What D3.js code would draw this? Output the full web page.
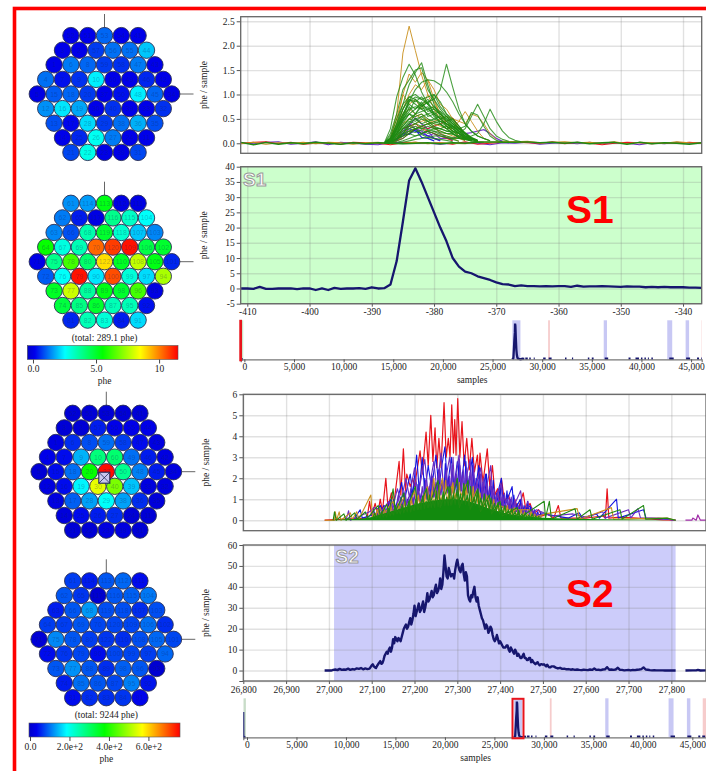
<!DOCTYPE html>
<html>
<head>
<meta charset="utf-8">
<script src="https://cdn.jsdelivr.net/npm/d3@7"></script>
<style>
  html, body { margin: 0; padding: 0; background: #fff; overflow: hidden; }
  text { font-family: "Liberation Serif", serif; fill: #222; }
</style>
</head>
<body>
<svg id="chart" width="706" height="771"></svg>
<script>
// PMT numbering, rows top to bottom
const topLabels = [
  [52, 51, 53, 54, 41],
  [3, 2, 57, 56, 55, 44],
  [1, 6, 8, 59, 58, 47, 43],
  [4, 7, 9, 10, 60, 49, 46, 42],
  [5, 15, 18, 20, 37, 50, 48, 45, 34],
  [12, 16, 19, 30, 40, 39, 33, 32],
  [13, 17, 28, 29, 38, 36, 35],
  [14, 25, 26, 27, 24, 11],
  [21, 22, 23, 39, 31]
];
const bottomLabels = [
  [61, 114, 113, 112, 111],
  [62, 65, 117, 116, 115, 104],
  [63, 66, 68, 119, 118, 107, 103],
  [64, 67, 69, 70, 120, 109, 106, 102],
  [71, 75, 78, 80, 122, 110, 108, 105, 101],
  [72, 76, 79, 90, 100, 99, 97, 94],
  [73, 77, 88, 89, 98, 96, 93],
  [74, 85, 86, 87, 95, 92],
  [81, 82, 83, 84, 91]
];
// phe per PMT
const s1Top = [
  [0.1, 0.1, 1.1, 0.1, 0.1],
  [0.1, 0.1, 0.7, 1.2, 1.2, 2.0],
  [0.1, 1.3, 1.1, 0.7, 0.6, 1.3, 0.1],
  [1.2, 0.3, 0.6, 2.4, 0.1, 0.1, 0.5, 0.1],
  [0.0, 1.0, 1.1, 0.7, 0.1, 0.3, 2.4, 1.1, 0.0],
  [1.5, 2.3, 1.7, 0.1, 0.6, 0.1, 0.1, 0.6],
  [0.9, 0.2, 2.2, 0.7, 1.2, 1.8, 0.9],
  [0.1, 0.5, 2.7, 1.3, 0.1, 0.1],
  [0.8, 2.8, 0.05, 0.05, 0.8]
];
const s1Bottom = [
  [1.5, 1.6, 5.3, 0.0, 0.0],
  [1.3, 0.4, 0.0, 3.9, 3.2, 2.6],
  [1.4, 0.9, 3.5, 5.0, 3.1, 2.0, 1.4],
  [5.6, 2.9, 3.4, 10.3, 10.8, 11.3, 4.7, 5.0],
  [0.05, 3.9, 6.3, 4.3, 8.9, 5.1, 7.8, 5.3, 0.5],
  [1.0, 2.6, 11.3, 2.3, 10.6, 3.0, 2.2, 7.5],
  [5.1, 7.9, 3.7, 5.3, 5.0, 6.3, 0.0],
  [4.8, 4.0, 5.0, 3.4, 3.4, 0.3],
  [0.5, 3.4, 3.0, 0.4, 2.2]
];
const s2Top = [
  [10, 10, 10, 10, 10],
  [10, 10, 50, 30, 30, 30],
  [20, 60, 80, 100, 70, 40, 20],
  [30, 40, 140, 285, 295, 100, 50, 20],
  [10, 40, 100, 380, 750, 270, 110, 50, 20],
  [20, 40, 180, 550, 470, 150, 20, 20],
  [20, 90, 130, 190, 130, 60, 15],
  [15, 40, 50, 60, 10, 10],
  [10, 10, 20, 20, 10]
];
const s2Bottom = [
  [70, 50, 85, 95, 40],
  [85, 65, 5, 85, 90, 105],
  [50, 85, 125, 80, 80, 60, 80],
  [70, 70, 85, 75, 75, 75, 100, 60],
  [10, 115, 85, 70, 65, 60, 80, 95, 75],
  [40, 65, 75, 40, 75, 75, 70, 95],
  [85, 120, 85, 60, 90, 85, 5],
  [50, 100, 85, 75, 110, 45],
  [40, 60, 60, 65, 35]
];

// S1 summed waveform, one value per sample from -411
const s1SumStart = -411;
const s1Sum = [0, 0, -0.1, 0.5, -0.1, -0.1, 0, 0, 0, -0.2, 0, 0, -0.5, 0, -0.5, 0.2, -0.1, 0, 0, 0.1, -0.1, 0.4, 0, 0.1,
  1.3, 9, 22, 35.5, 39.5, 35, 30, 25, 20, 15.5, 10, 7.2, 5.5, 5, 4, 3.4, 2.8, 2, 1.4, 1.3,
  0.8, 1, 0.8, 0.8, 0.7, 0.8, 0.7, 0.8, 0.8, 0.5, 0.9, 0.6, 0.7, 0.7, 0.8, 0.7, 0.6, 0.5, 0.7, 0.6, 0.6, 0.4, 0.5, 0.4, 0.5, 0.4, 0.4, 0.4, 0.3, 0.3, 0.2];

// S1 per-PMT traces, one value per sample from -388
const s1TraceStart = -388;
const s1Purple = [
  [0, 0, 0.1, 0.2, 0.35, 0.52, 0.4, 0.3, 0.35, 0.2, 0.12, 0.06],
  [0, 0, 0.05, 0.15, 0.2, 0.3, 0.25, 0.15, 0.2, 0.1, 0.1, 0.1, 0.15, 0.2, 0.22, 0.25, 0.28, 0.2, 0.1, 0.04],
  [0, 0.02, 0.08, 0.25, 0.4, 0.3, 0.2, 0.25, 0.1, 0.05]
];
const s1Blue = [
  [0, 0.02, 0.1, 0.15, 0.3, 0.25, 0.2, 0.15, 0.1, 0.06],
  [0, 0.01, 0.06, 0.2, 0.18, 0.28, 0.12, 0.1, 0.05]
];
const s1Red = [
  [0, 0, 0.05, 0.1, 0.2, 0.3, 0.35, 0.3, 0.35, 0.4, 0.45, 0.52, 0.35, 0.2, 0.1, 0.05],
  [0, 0.02, 0.1, 0.3, 0.35, 0.4, 0.3, 0.25, 0.2, 0.15, 0.1, 0.05]
];
const s1Orange = [
  [0, 0.1, 0.6, 1.85, 2.4, 1.9, 1.4, 1.0, 0.7, 0.5, 0.35, 0.25, 0.15, 0.1, 0.05],
  [0, 0.1, 0.5, 1.0, 1.42, 1.25, 1.45, 1.3, 0.9, 0.6, 0.4, 0.25, 0.15, 0.08],
  [0, 0.05, 0.3, 0.7, 1.0, 1.2, 1.1, 1.3, 1.1, 0.8, 0.7, 0.5, 0.3, 0.2, 0.1, 0.05],
  [0, 0.1, 0.4, 1.0, 0.8, 0.9, 0.7, 1.0, 0.85, 0.6, 0.45, 0.3, 0.2, 0.1],
  [0, 0, 0.1, 0.2, 0.3, 0.4, 0.45, 0.5, 0.4, 0.35, 0.3, 0.3, 0.45, 0.65, 0.45, 0.25, 0.1, 0.05],
  [0, 0, 0.05, 0.15, 0.25, 0.3, 0.35, 0.4, 0.45, 0.5, 0.55, 0.5, 0.45, 0.4, 0.6, 0.55, 0.4, 0.2, 0.08],
  [0, 0.05, 0.3, 0.6, 0.7, 0.6, 0.5, 0.4, 0.3, 0.25, 0.2, 0.15, 0.1, 0.05],
  [0, 0.02, 0.2, 0.4, 0.5, 0.55, 0.6, 0.45, 0.35, 0.2, 0.15, 0.1, 0.04]
];
const s1Green = [
  [0, 0.3, 0.95, 1.35, 1.62, 1.4, 1.05, 0.8, 0.6, 0.4, 0.3, 0.2, 0.12, 0.08, 0.05, 0.03, 0.02],
  [0, 0.1, 0.4, 0.8, 1.2, 1.45, 1.65, 1.2, 0.8, 0.55, 0.35, 0.25, 0.15, 0.1, 0.05, 0.03],
  [0, 0, 0.1, 0.2, 0.4, 0.6, 0.75, 0.85, 0.9, 1.1, 1.62, 1.15, 0.7, 0.4, 0.25, 0.15, 0.1, 0.05],
  [0, 0.05, 0.2, 0.5, 0.85, 1.1, 1.25, 1.3, 1.28, 1.2, 1.05, 0.85, 0.6, 0.4, 0.25, 0.15, 0.1, 0.05],
  [0, 0, 0.02, 0.05, 0.1, 0.15, 0.2, 0.25, 0.3, 0.3, 0.25, 0.25, 0.2, 0.3, 0.55, 0.8, 0.55, 0.3, 0.15, 0.08, 0.04],
  [0, 0, 0, 0.02, 0.05, 0.08, 0.1, 0.12, 0.15, 0.15, 0.12, 0.1, 0.1, 0.12, 0.15, 0.2, 0.4, 0.7, 0.45, 0.25, 0.12, 0.06, 0.03],
  [0, 0, 0.05, 0.1, 0.2, 0.3, 0.35, 0.4, 0.42, 0.45, 0.4, 0.35, 0.3, 0.35, 0.63, 0.58, 0.35, 0.15, 0.06, 0.03],
  [0, 0.2, 0.6, 1.1, 1.3, 1.5, 1.55, 1.1, 0.9, 0.7, 0.55, 0.4, 0.3, 0.2, 0.1, 0.05],
  [0, 0.15, 0.5, 0.8, 0.95, 1.0, 0.9, 0.95, 1.0, 0.85, 0.6, 0.45, 0.3, 0.2, 0.1, 0.05],
  [0, 0.1, 0.4, 0.7, 0.9, 0.85, 0.95, 0.8, 1.0, 0.75, 0.6, 0.5, 0.35, 0.2, 0.1, 0.05],
  [0, 0.1, 0.3, 0.55, 0.7, 0.75, 0.7, 0.6, 0.65, 0.5, 0.4, 0.3, 0.2, 0.1, 0.05],
  [0, 0.05, 0.25, 0.45, 0.6, 0.55, 0.6, 0.5, 0.45, 0.4, 0.3, 0.2, 0.12, 0.06],
  [0, 0.1, 0.35, 0.6, 0.8, 0.7, 0.85, 0.65, 0.7, 0.6, 0.5, 0.35, 0.25, 0.15, 0.08],
  [0, 0.05, 0.2, 0.35, 0.5, 0.45, 0.55, 0.45, 0.5, 0.55, 0.45, 0.5, 0.35, 0.2, 0.1],
  [0, 0.02, 0.15, 0.3, 0.4, 0.5, 0.4, 0.45, 0.35, 0.3, 0.35, 0.25, 0.2, 0.1, 0.05],
  [0, 0.02, 0.1, 0.25, 0.3, 0.35, 0.3, 0.35, 0.3, 0.25, 0.2, 0.2, 0.12, 0.08],
  [0, 0.05, 0.3, 0.5, 0.65, 0.9, 0.75, 0.85, 0.6, 0.5, 0.4, 0.3, 0.2, 0.12, 0.06],
  [0, 0.01, 0.08, 0.2, 0.25, 0.3, 0.2, 0.25, 0.2, 0.15, 0.12, 0.08, 0.04],
  [0, 0.03, 0.2, 0.45, 0.75, 0.6, 0.8, 0.55, 0.6, 0.65, 0.45, 0.35, 0.22, 0.12, 0.05],
  [0, 0.01, 0.1, 0.15, 0.2, 0.15, 0.18, 0.12, 0.1, 0.08, 0.06, 0.03],
  [0, 0.05, 0.3, 0.6, 0.85, 0.95, 0.9, 0.8, 0.7, 0.6, 0.45, 0.35, 0.25, 0.15, 0.08, 0.04],
  [0, 0.08, 0.35, 0.7, 0.95, 0.9, 0.8, 0.9, 0.75, 0.6, 0.5, 0.4, 0.25, 0.15, 0.08],
  [0, 0.02, 0.15, 0.4, 0.6, 0.7, 0.8, 0.7, 0.75, 0.65, 0.55, 0.45, 0.3, 0.2, 0.1, 0.05],
  [0, 0.03, 0.2, 0.35, 0.5, 0.6, 0.65, 0.7, 0.6, 0.5, 0.55, 0.4, 0.3, 0.22, 0.12, 0.06],
  [0, 0.04, 0.25, 0.5, 0.6, 0.5, 0.55, 0.6, 0.5, 0.45, 0.4, 0.32, 0.28, 0.18, 0.1, 0.05],
  [0, 0.02, 0.1, 0.3, 0.45, 0.4, 0.5, 0.45, 0.4, 0.38, 0.3, 0.35, 0.25, 0.2, 0.12, 0.06],
  [0, 0.01, 0.1, 0.2, 0.35, 0.4, 0.35, 0.4, 0.32, 0.3, 0.25, 0.22, 0.2, 0.15, 0.1, 0.05],
  [0, 0.02, 0.15, 0.3, 0.35, 0.3, 0.32, 0.28, 0.25, 0.22, 0.2, 0.18, 0.15, 0.12, 0.08, 0.04],
  [0, 0.02, 0.08, 0.15, 0.25, 0.22, 0.28, 0.2, 0.24, 0.18, 0.15, 0.12, 0.1, 0.08, 0.05],
  [0, 0.05, 0.3, 0.55, 0.9, 0.8, 0.7, 0.75, 0.55, 0.45, 0.35, 0.3, 0.2, 0.12, 0.06]
];
// S1 baseline noise, every 2 samples from -411
const s1NoisePurple = [0.01, -0.01, 0.02, 0.03, -0.02, 0, 0.03, -0.03, 0.02, 0, -0.02, -0.03, 0.01, 0.02, 0, 0, -0.02, 0, 0.01, 0, -0.03, 0.01, 0, 0.02, -0.02, 0, 0.01, -0.01, 0.02, -0.01, 0.01, 0, -0.03, 0.01, -0.01, 0.02, 0, 0.01];
const s1NoiseRed = [0, 0.02, 0.03, -0.01, 0.02, -0.02, 0, 0.01, -0.02, 0.02, 0.01, 0, -0.03, 0.01, 0.02, 0, 0.01, -0.02, 0.03, -0.02, 0, 0.02, 0.03, 0.01, 0, 0.03, -0.01, 0.02, 0, -0.03, 0, 0.02, 0.01, -0.01, 0.01, 0, 0.02, 0];
const s1NoiseOrange = [-0.01, 0.02, -0.02, 0.01, 0, 0.02, -0.01, 0.02, 0.01, -0.02, 0.01, 0.02, -0.01, 0, 0.02, -0.01, 0.01, 0, -0.01, 0.03, 0.02, 0.04, 0.03, 0.04, 0.01, 0.02, 0.03, 0.01, 0.02, 0, 0.03, -0.01, 0.02, 0.01, 0, 0.03, 0.01, 0];
const s1NoiseGreen = [0.02, -0.03, 0.02, -0.02, 0.01, -0.01, 0.02, 0, -0.02, 0.01, -0.01, 0.01, 0, -0.01, 0, 0.01, -0.01, 0.01, 0, 0.02, 0.03, 0.02, 0.02, 0.03, 0.01, 0.02, 0, 0.02, -0.01, 0.01, 0.02, -0.02, 0.02, -0.01, 0.01, 0, -0.02, 0.01];

// S2 summed waveform, one value every 5 samples from 26990
const s2SumStart = 26990;
const s2Sum = [0, 0, 0, 0,
  0.3, 0.5, 0.2, 0.8, 0.3, 0.5, 0.4, 0.9, 0.3, 0.7, 0.5, 1, 0.8, 1.2, 0.6, 1, 0.7, 0.9,
  2.5, 2, 1.2, 3, 4.5, 3.5, 7, 9, 10, 9, 15, 16, 14, 15, 16, 20, 22, 21, 25, 24,
  31, 28, 32, 29, 33, 30, 37, 34, 38, 36, 41, 38, 44, 41, 55, 45, 49, 45, 46, 48,
  53, 48, 50, 46, 47, 36, 33, 35, 40, 33, 31, 27, 24, 20, 21, 19, 20, 15, 15, 15,
  14, 12, 11, 12, 10, 11, 9, 10, 7, 7, 6, 8, 6, 5, 6, 5, 3.5, 3.5, 3, 3, 2.8, 2.5, 2.8, 1.5, 2,
  2, 1.4, 1, 1.3, 0.8, 0.9, 0.6, 0.7, 0.4, 0.6, 0.3, 0.5, 0.3, 0.2, 0.4, 0.3, 0.2, 0.5, 0.3, 1,
  0.3, 0.4, 0.2, 0.5, 0.6, 1.6, 0.4, 0.5, 0.3, 0.5, 1.3, 0.3, 0.3, 0.1, 0.2, 0.3, 0.1, 0.3, 0.2, 0.4,
  0.5, 0.7, 1.5, 0.5, 0.4, 0.2, 0.1, 0.2, 0.1, 0.1, 0.1, 0.1, 0, 0.1, 0, 0, 0, 0];
// in-between readings, every 5 samples from 27102.5
const s2SumMidStart = 27102.5;
const s2SumMid = [3, 1.5, 2.2, 3.8, 3.2, 5, 8, 8, 11, 11, 13, 15, 15.5, 14, 18, 21, 20, 23, 22, 27,
  26, 30, 28, 31, 28, 33, 33, 36, 35, 39, 37, 40, 39, 47, 50, 44, 47, 46, 44, 51,
  50, 47, 51, 43, 45, 34, 36, 38, 35, 35, 29, 25, 22, 22, 18, 21, 17, 14, 17, 13,
  13, 11, 11, 12, 9, 10, 8, 9, 8, 6, 7, 6, 5, 6, 4, 4, 3, 4, 2.5, 3, 3, 2, 2, 1.5];
const s2SumTail = [[27833, 0], [27850, 0.1], [27858, 0.1], [27862, 0.3], [27868, 0], [27881, 0.1]];

const s2Red = [[26990, 0], [27085, 0.1], [27090, 0.2], [27095, 0.9], [27100, 0.2], [27108, 0.8], [27114, 0.3], [27120, 1.0], [27125, 0.4], [27133, 2.0], [27138, 0.6], [27146, 1.3], [27152, 0.8], [27164, 2.8], [27168, 1.2], [27174, 3.4], [27179, 1.4], [27182, 2.2], [27190, 1.6], [27196, 2.0], [27200, 1.6], [27213, 3.3], [27218, 2.2], [27227, 4.2], [27232, 2.6], [27238, 5.0], [27243, 2.8], [27248, 4.4], [27252, 2.5], [27257, 3.9], [27262, 2.5], [27269, 5.6], [27274, 3.0], [27279, 3.9], [27283, 3], [27287, 5.5], [27291, 3.2], [27294, 4.8], [27297, 3.1], [27301, 5.8], [27306, 3], [27311, 4.7], [27316, 2.6], [27322, 3.9], [27328, 2.4], [27334, 3.9], [27340, 2.3], [27347, 3.1], [27350, 2], [27353, 3.2], [27360, 1.8], [27370, 3.4], [27376, 1.6], [27382, 2.6], [27388, 1.2], [27394, 1.5], [27398, 0.8], [27403, 2.0], [27410, 0.9], [27420, 1.2], [27426, 0.6], [27434, 1.0], [27442, 0.5], [27454, 1.3], [27460, 0.5], [27470, 0.8], [27478, 0.3], [27490, 0.5], [27498, 0.2], [27510, 0.3], [27525, 0.1], [27536, 0.7], [27542, 0.1], [27600, 0.1], [27640, 0.2], [27646, 0.1], [27650, 1.5], [27654, 0.1], [27680, 0.15], [27720, 0.1], [27780, 0.02], [27810, 0]];
const s2Blue = [[27060, 0.1], [27073, 0.5], [27078, 0.1], [27110, 0.3], [27120, 0.7], [27130, 0.3], [27145, 1.0], [27155, 0.5], [27170, 1.8], [27176, 0.9], [27190, 2.2], [27196, 1.2], [27205, 3.1], [27211, 1.4], [27218, 3.0], [27224, 1.3], [27232, 2.6], [27240, 1.5], [27250, 3.1], [27257, 1.5], [27263, 2.5], [27271, 3.5], [27277, 1.6], [27286, 3.0], [27292, 1.5], [27300, 2.8], [27308, 1.4], [27317, 3.1], [27324, 1.3], [27335, 3.0], [27341, 1.2], [27350, 2.6], [27356, 1.0], [27366, 2.2], [27372, 0.8], [27380, 1.6], [27386, 0.6], [27403, 2.0], [27408, 0.5], [27428, 1.6], [27433, 0.4], [27447, 1.0], [27453, 0.3], [27470, 0.7], [27476, 0.2], [27500, 0.3], [27560, 0.1], [27585, 0.35], [27592, 0.1], [27625, 0.3], [27632, 0.1], [27672, 1.0], [27676, 0.1], [27735, 0.5], [27741, 0.1], [27790, 0.05], [27810, 0]];
const s2Purple = [[27040, 0], [27046, 0.45], [27050, 0], [27095, 0.4], [27105, 0.6], [27125, 0.5], [27140, 0.9], [27148, 0.5], [27160, 1.5], [27168, 0.9], [27180, 2.0], [27188, 1.1], [27200, 2.5], [27208, 1.2], [27224, 2.9], [27232, 1.2], [27245, 2.8], [27252, 1.5], [27262, 3.2], [27268, 1.4], [27282, 3.0], [27290, 1.3], [27304, 3.1], [27312, 1.2], [27330, 2.9], [27336, 1.1], [27355, 2.5], [27362, 0.9], [27378, 2.6], [27384, 0.7], [27402, 1.7], [27408, 0.6], [27420, 1.1], [27426, 0.4], [27448, 1.4], [27454, 0.3], [27465, 0.9], [27470, 0.3], [27485, 0.5], [27520, 0.2], [27570, 0.3], [27600, 0.15], [27640, 0.4], [27645, 0.1], [27700, 0.5], [27705, 0.1], [27722, 0.55], [27728, 0.1], [27770, 0.1], [27810, 0]];
const s2Orange = [[26990, 0], [27013, 0], [27015, 0.4], [27018, 0], [27024, 0.4], [27028, 0], [27050, 0.35], [27055, 0.05], [27065, 0.4], [27070, 0.05], [27098, 1.2], [27102, 0.1], [27120, 0.6], [27125, 0.2], [27150, 0.9], [27158, 0.3], [27175, 1.1], [27182, 0.4], [27200, 1.4], [27207, 0.5], [27230, 1.6], [27236, 0.5], [27245, 2.0], [27252, 0.7], [27265, 2.0], [27272, 0.6], [27290, 1.8], [27296, 0.6], [27320, 1.7], [27326, 0.6], [27345, 1.4], [27352, 0.4], [27372, 1.1], [27378, 0.3], [27400, 0.7], [27420, 0.5], [27468, 0.5], [27474, 0.1], [27505, 0.3], [27580, 0.55], [27586, 0.05], [27660, 0.6], [27665, 0.05], [27790, 0.1], [27810, 0]];
const s2GreenEnvelope = [[27000, 0], [27040, 0.04], [27080, 0.08], [27100, 0.15], [27125, 0.3], [27150, 0.45], [27175, 0.6], [27200, 0.75], [27225, 0.85], [27250, 0.95], [27275, 1.0], [27300, 1.0], [27325, 0.9], [27350, 0.75], [27375, 0.55], [27400, 0.4], [27425, 0.28], [27450, 0.2], [27475, 0.15], [27500, 0.12], [27550, 0.08], [27600, 0.06], [27700, 0.03], [27800, 0]];
const s2Green = [[27010, 0], [27013, 0.4], [27017, 0], [27035, 0.3], [27040, 0], [27060, 0.35], [27066, 0.05], [27085, 0.4], [27090, 0.1], [27115, 0.7], [27120, 0.2], [27135, 0.75], [27140, 0.3], [27150, 1.5], [27155, 0.4], [27175, 1.3], [27180, 0.5], [27202, 1.6], [27208, 0.5], [27228, 1.5], [27233, 0.6], [27255, 1.9], [27260, 0.6], [27278, 1.6], [27285, 0.7], [27300, 2.0], [27305, 0.6], [27325, 1.9], [27330, 0.5], [27348, 1.5], [27354, 0.4], [27375, 1.2], [27380, 0.3], [27400, 0.9], [27405, 0.2], [27440, 0.6], [27445, 0.1], [27503, 0.9], [27506, 0.1], [27515, 0.9], [27520, 0.05], [27575, 0.55], [27580, 0.05], [27610, 0.5], [27615, 0.05], [27680, 0.5], [27685, 0.05], [27735, 0.7], [27740, 0.05], [27790, 0.1], [27810, 0]];
const s2TailTrace = [[27833, 0], [27848, 0], [27850, 0.1], [27858, 0], [27862, 0.25], [27868, 0], [27881, 0]];
// denser traces through the pulse, one value every 4 samples
const s2Blue2Start = 27100;
const s2Blue2 = [0.2, 0.5, 0.2, 0.4, 0.15, 0.6, 0.3, 0.7, 0.3, 0.5, 0.25, 0.8, 0.4, 1.0, 0.5, 0.7, 0.4, 1.1, 0.6, 1.3, 0.7, 1.0, 0.6, 1.5, 0.8, 1.2, 0.7, 1.7, 0.9, 1.3, 0.8, 2.0, 1.0, 1.5, 0.9, 2.2, 1.1, 1.7, 1.0, 2.4, 1.2, 1.9, 1.1, 2.7, 1.3, 2.0, 1.2, 2.6, 1.4, 2.2, 1.3, 2.9, 1.4, 2.3, 1.2, 2.8, 1.3, 2.1, 1.2, 2.6, 1.2, 2.0, 1.1, 2.5, 1.1, 1.8, 0.9, 2.2, 1.0, 1.6, 0.8, 1.9, 0.8, 1.3, 0.7, 1.6, 0.6, 1.2, 0.6, 1.4, 0.5, 1.0, 0.5, 1.2, 0.4, 0.8, 0.4, 0.9, 0.3, 0.7, 0.3, 0.9, 0.3, 0.6, 0.2, 0.5, 0.2, 0.4, 0.15, 0.4];
const s2Purple2Start = 27102;
const s2Purple2 = [0.1, 0.4, 0.15, 0.5, 0.2, 0.4, 0.2, 0.7, 0.3, 0.6, 0.3, 0.9, 0.4, 0.7, 0.4, 1.2, 0.5, 0.9, 0.5, 1.4, 0.7, 1.1, 0.6, 1.3, 0.7, 1.8, 0.8, 1.4, 0.8, 1.6, 0.9, 1.9, 1.0, 1.6, 1.0, 2.1, 1.1, 1.8, 1.0, 2.5, 1.2, 1.9, 1.2, 2.4, 1.3, 2.1, 1.2, 3.0, 1.3, 2.2, 1.3, 2.6, 1.4, 2.4, 1.2, 2.5, 1.3, 2.3, 1.1, 2.7, 1.2, 1.9, 1.1, 2.2, 1.0, 2.0, 0.9, 1.8, 0.9, 1.9, 0.8, 1.5, 0.7, 1.4, 0.7, 1.1, 0.6, 1.3, 0.5, 0.9, 0.5, 1.1, 0.4, 1.0, 0.4, 0.7, 0.3, 0.8, 0.3, 0.6, 0.3, 0.5, 0.2, 0.6, 0.2, 0.4, 0.2, 0.3, 0.1, 0.3];
const s2Orange2Start = 27101;
const s2Orange2 = [0.1, 0.3, 0.1, 0.5, 0.2, 0.3, 0.15, 0.6, 0.2, 0.4, 0.2, 0.7, 0.3, 0.5, 0.3, 0.8, 0.4, 0.6, 0.3, 0.9, 0.4, 0.7, 0.4, 1.0, 0.5, 0.8, 0.5, 1.2, 0.6, 0.9, 0.5, 1.3, 0.6, 1.0, 0.6, 1.4, 0.7, 1.1, 0.7, 1.7, 0.8, 1.2, 0.8, 1.9, 0.8, 1.4, 0.8, 1.6, 0.9, 1.3, 0.8, 1.8, 0.8, 1.3, 0.8, 1.7, 0.8, 1.2, 0.7, 1.6, 0.7, 1.2, 0.7, 1.3, 0.6, 1.0, 0.6, 1.2, 0.5, 0.9, 0.5, 1.0, 0.4, 0.8, 0.4, 0.7, 0.3, 0.6, 0.3, 0.7, 0.3, 0.5, 0.2, 0.6, 0.2, 0.4, 0.2, 0.5, 0.15, 0.4, 0.15, 0.3, 0.1, 0.4, 0.1, 0.3, 0.1, 0.2, 0.05, 0.2];
const s2Green2Start = 27103;
const s2Green2 = [0.1, 0.35, 0.1, 0.25, 0.1, 0.4, 0.15, 0.3, 0.15, 0.55, 0.2, 0.4, 0.25, 0.7, 0.3, 0.5, 0.3, 0.75, 0.35, 0.6, 0.4, 0.9, 0.4, 0.7, 0.45, 1.0, 0.5, 0.8, 0.5, 1.15, 0.55, 0.9, 0.6, 1.2, 0.6, 0.95, 0.6, 1.4, 0.65, 1.05, 0.7, 1.35, 0.7, 1.1, 0.7, 1.6, 0.75, 1.2, 0.75, 1.45, 0.75, 1.25, 0.8, 1.75, 0.75, 1.2, 0.7, 1.6, 0.7, 1.1, 0.7, 1.4, 0.6, 1.05, 0.6, 1.25, 0.5, 0.95, 0.5, 1.05, 0.4, 0.8, 0.4, 0.85, 0.3, 0.6, 0.3, 0.7, 0.25, 0.5, 0.2, 0.55, 0.2, 0.4, 0.15, 0.45, 0.15, 0.3, 0.1, 0.35, 0.1, 0.25, 0.1, 0.3, 0.05, 0.2, 0.05, 0.2];

// overview waveform as [sample, phe/sample] runs, gaps between runs
const overviewPeakS1 = [[-400, 0], [-387, 1], [-383, 39], [-375, 5], [-360, 1], [-340, 0], [-150, 0]];
const overviewPeakS2 = [[26990, 0], [27050, 1], [27100, 2], [27150, 15], [27200, 30], [27250, 41], [27270, 55], [27300, 52], [27350, 31], [27400, 15], [27450, 7], [27500, 3], [27550, 1], [27810, 0], [28000, 0.8], [28200, 0.6]];
const overviewBlips = [[28300, 28550], [28700, 28850], [29150, 29250], [30100, 30350], [30650, 30950], [32300, 32450], [33000, 33120], [34600, 34750], [35000, 35180], [36300, 36650], [38700, 38900], [39400, 39750], [39950, 40100], [40300, 40450], [40650, 40750], [41000, 41150], [42800, 43250], [44500, 44900], [45600, 45800], [46000, 46300]];

// pulse windows on the overview strip
const s2Windows = [[26995, 27810], [36200, 36530], [42600, 43100], [44450, 44800]];
const s1Windows = [[30600, 30780], [46050, 46400]];
const s1Marker = [-371, -110];

const overviewTicks = [0, 5000, 10000, 15000, 20000, 25000, 30000, 35000, 40000, 45000];
const s1DetailTicks = [-410, -400, -390, -380, -370, -360, -350, -340];
const s2DetailTicks = [26800, 26900, 27000, 27100, 27200, 27300, 27400, 27500, 27600, 27700, 27800];

const svg = d3.select("#chart");
const navy = "#16166e";
const traceGreen = "#1f8a12", traceOrange = "#c98f1c", tracePurple = "#6a2cc0", traceRed = "#e8141c", traceBlue = "#1414e0";
const jet = d3.scaleLinear()
  .domain([0, 0.05, 0.25, 0.5, 0.75, 1])
  .range(["#0000c8", "#0000ec", "#00ffff", "#00ff00", "#ffff00", "#ff0000"])
  .clamp(true);

// red frame goes off the window on the right and bottom
svg.append("rect")
  .attr("x", 14.5).attr("y", 8.5).attr("width", 800).attr("height", 900)
  .attr("fill", "none").attr("stroke", "#ff0000").attr("stroke-width", 3.6);

function drawHex(labels, values, cx, cy, barScale) {
  const g = svg.append("g");
  const xPos = d3.scaleLinear().domain([-4, 4]).range([cx - 67.2, cx + 67.2]);
  const yPos = d3.scaleLinear().domain([0, 8]).range([cy - 58.4, cy + 58.4]);
  g.append("line").attr("x1", cx).attr("x2", cx).attr("y1", cy - 80).attr("y2", cy - 66)
    .attr("stroke", "#666").attr("stroke-width", 1);
  g.append("line").attr("x1", cx + 75).attr("x2", cx + 89).attr("y1", cy).attr("y2", cy)
    .attr("stroke", "#666").attr("stroke-width", 1);

  const cells = values.flatMap((row, r) => row.map((v, i) => ({
    v, label: labels[r][i], x: xPos(i - (row.length - 1) / 2), y: yPos(r)
  })));
  g.selectAll("circle").data(cells).join("circle")
    .attr("cx", d => d.x).attr("cy", d => d.y).attr("r", 8.2)
    .attr("fill", d => jet(barScale(d.v)))
    .attr("stroke", "#2a2f55").attr("stroke-width", 0.9);
  g.selectAll("text").data(cells).join("text")
    .attr("x", d => d.x).attr("y", d => d.y + 2.5)
    .attr("text-anchor", "middle")
    .style("font-family", "'Liberation Sans', sans-serif")
    .style("font-size", "7px")
    .style("fill", "#10205a").style("fill-opacity", 0.3)
    .text(d => d.label);
}

function drawColorBar(id, barScale, x0, x1, top, total, tickVals, fmt, cx) {
  const x = d3.scaleLinear().domain(barScale.domain()).range([x0, x1]);
  const grad = svg.append("defs").append("linearGradient").attr("id", id);
  d3.range(0, 1.001, 0.05).forEach(t => {
    grad.append("stop").attr("offset", t).attr("stop-color", jet(t));
  });
  svg.append("text").attr("x", cx).attr("y", top - 5).attr("text-anchor", "middle")
    .style("font-size", "9.5px").text(total);
  svg.append("rect").attr("x", x0).attr("y", top).attr("width", x1 - x0).attr("height", 14)
    .attr("fill", `url(#${id})`).attr("stroke", "#555").attr("stroke-width", 0.6);
  const ax = svg.append("g").attr("transform", `translate(0,${top + 14})`)
    .call(d3.axisBottom(x).tickValues(tickVals).tickFormat(fmt).tickSize(4).tickPadding(2));
  ax.select(".domain").remove();
  ax.selectAll("line").attr("stroke", "#444");
  ax.selectAll("text").style("font-size", "9.5px").style("font-family", "'Liberation Serif', serif");
  svg.append("text").attr("x", cx).attr("y", top + 38.5).attr("text-anchor", "middle")
    .style("font-size", "9.5px").text("phe");
}

function makePlot(box, xDomain, yDomain, xTicks, yTicks, yFmt, xLabels) {
  const x = d3.scaleLinear().domain(xDomain).range([box.left, box.right]);
  const y = d3.scaleLinear().domain(yDomain).range([box.bottom, box.top]);
  const clipId = "clip" + Math.round(box.top);
  svg.append("clipPath").attr("id", clipId).append("rect")
    .attr("x", box.left).attr("y", box.top)
    .attr("width", box.right - box.left).attr("height", box.bottom - box.top);
  const under = svg.append("g").attr("clip-path", `url(#${clipId})`);
  const grid = svg.append("g");
  grid.append("g").attr("transform", `translate(0,${box.bottom})`)
    .call(d3.axisBottom(x).tickValues(xTicks).tickSize(box.top - box.bottom).tickFormat(""));
  grid.append("g").attr("transform", `translate(${box.left},0)`)
    .call(d3.axisLeft(y).tickValues(yTicks).tickSize(box.left - box.right).tickFormat(""));
  grid.selectAll(".domain").remove();
  grid.selectAll("line").attr("stroke", "#808080").attr("stroke-opacity", 0.24).attr("stroke-width", 1.4);
  const marks = svg.append("g").attr("clip-path", `url(#${clipId})`);

  const axisG = svg.append("g");
  const left = axisG.append("g").attr("transform", `translate(${box.left},0)`)
    .call(d3.axisLeft(y).tickValues(yTicks).tickFormat(yFmt).tickSize(4).tickPadding(2));
  left.selectAll("line").attr("stroke", "#555");
  left.selectAll("text").style("font-size", "9.5px").style("font-family", "'Liberation Serif', serif");
  left.select(".domain").remove();
  if (xLabels) {
    const bottom = axisG.append("g").attr("transform", `translate(0,${box.bottom})`)
      .call(d3.axisBottom(x).tickValues(xTicks).tickFormat(xLabels).tickSize(3).tickPadding(2));
    bottom.select(".domain").remove();
    bottom.selectAll("line").attr("stroke", "#555");
    bottom.selectAll("text").style("font-size", "9.5px").style("font-family", "'Liberation Serif', serif");
  }
  axisG.append("rect")
    .attr("x", box.left).attr("y", box.top)
    .attr("width", box.right - box.left).attr("height", box.bottom - box.top)
    .attr("fill", "none").attr("stroke", "#666").attr("stroke-width", 1.3);
  svg.append("text")
    .attr("transform", `translate(${box.left - 34},${(box.top + box.bottom) / 2}) rotate(-90)`)
    .attr("text-anchor", "middle").style("font-size", "9.5px").text("phe / sample");
  return { x, y, under, marks };
}

function drawTrace(p, pts, color, width, opacity) {
  const line = d3.line().x(d => p.x(d[0])).y(d => p.y(d[1]));
  p.marks.append("path").datum(pts).attr("d", line)
    .attr("fill", "none").attr("stroke", color)
    .attr("stroke-width", width).attr("stroke-opacity", opacity)
    .attr("stroke-linejoin", "round");
}
const fromStart = (vals, start, step) => vals.map((v, i) => [start + i * step, v]);

function bigLabel(text, x, y) {
  svg.append("text").attr("x", x).attr("y", y)
    .style("font-family", "'Liberation Sans', sans-serif").style("font-weight", "bold")
    .style("font-size", "39px").style("fill", "#ff0000").text(text);
}
function ghostLabel(text, x, y) {
  svg.append("text").attr("x", x).attr("y", y)
    .style("font-family", "'Liberation Sans', sans-serif").style("font-weight", "bold")
    .style("font-size", "19px").style("fill", "#fff")
    .style("stroke", "#9a9a9a").style("stroke-width", 1).text(text);
}

function drawOverview(box, xDomain, brush, s1Color) {
  const x = d3.scaleLinear().domain(xDomain).range([box.left, box.right]);
  const y = d3.scaleLinear().domain([0, 60]).range([box.bottom, box.bottom - 39]);
  const clipId = "ovclip" + Math.round(box.bottom);
  svg.append("clipPath").attr("id", clipId).append("rect")
    .attr("x", box.left).attr("y", box.bottom - 40)
    .attr("width", box.right - box.left).attr("height", 42);
  const g = svg.append("g").attr("clip-path", `url(#${clipId})`);
  const band = (w, color) => g.append("rect")
    .attr("x", x(w[0])).attr("width", Math.max(x(w[1]) - x(w[0]), 1))
    .attr("y", box.bottom - 39).attr("height", 39).attr("fill", color);
  s2Windows.forEach(w => band(w, "#c8c8f4"));
  s1Windows.forEach(w => band(w, "#f6cccc"));
  band(s1Marker, s1Color);
  const line = d3.line().x(d => x(d[0])).y(d => y(d[1]));
  const runs = [overviewPeakS1, overviewPeakS2].concat(overviewBlips.map(b => [[b[0], 1], [b[1], 1]]));
  g.selectAll("path").data(runs).join("path").attr("d", line)
    .attr("fill", "none").attr("stroke", navy).attr("stroke-width", 2.3);

  const ax = svg.append("g").attr("transform", `translate(0,${box.bottom})`)
    .call(d3.axisBottom(x).tickValues(overviewTicks).tickFormat(d3.format(",")).tickSize(3).tickPadding(1));
  ax.select(".domain").attr("stroke", "#777").attr("stroke-width", 1.2);
  ax.selectAll("line").attr("stroke", "#555");
  ax.selectAll("text").style("font-size", "9.5px").style("font-family", "'Liberation Serif', serif");
  svg.append("rect")
    .attr("x", x(brush[0])).attr("width", x(brush[1]) - x(brush[0]))
    .attr("y", box.bottom - 38.5).attr("height", 39.5)
    .attr("fill", "none").attr("stroke", "#e8141c").attr("stroke-width", 2);
  svg.append("text").attr("x", (box.left + box.right) / 2 + 1).attr("y", box.bottom + 24)
    .attr("text-anchor", "middle").style("font-size", "9.5px").text("samples");
}

// hit patterns
const barS1 = d3.scaleLinear().domain([-0.45, 11.5]).range([0, 1]);
const barS2 = d3.scaleLinear().domain([-5, 760]).range([0, 1]);
drawHex(topLabels, s1Top, 104.5, 94, barS1);
drawHex(bottomLabels, s1Bottom, 104.5, 261.7, barS1);
drawHex(topLabels, s2Top, 106.3, 471.7, barS2);
drawHex(bottomLabels, s2Bottom, 106.3, 639.3, barS2);

// reconstructed position marker on the S2 top pattern
svg.append("rect").attr("x", 98.8).attr("y", 472.2).attr("width", 11).attr("height", 11)
  .attr("fill", "#c8c8f0").attr("stroke", "#222a55").attr("stroke-width", 1.1);
svg.append("path").attr("d", "M98.8,472.2L109.8,483.2M109.8,472.2L98.8,483.2")
  .attr("stroke", "#222a55").attr("stroke-width", 0.8);

drawColorBar("barS1", barS1, 27.3, 178, 345.5, "(total: 289.1 phe)", [0, 5, 10], d => d === 10 ? "10" : d.toFixed(1), 104.5);
drawColorBar("barS2", barS2, 29, 180, 723, "(total: 9244 phe)", [0, 200, 400, 600], d => d === 0 ? "0.0" : d3.format(".1e")(d), 106.3);

// S1 detail panels
const s1Domain = [-411.06, -337];
const plot1 = makePlot({ left: 240.7, right: 701.7, top: 16.7, bottom: 153.3 }, s1Domain, [-0.205, 2.594],
  s1DetailTicks, [0, 0.5, 1, 1.5, 2, 2.5], d3.format(".1f"), null);
[[s1NoisePurple, tracePurple], [s1NoiseRed, traceRed], [s1NoiseOrange, traceOrange]].forEach(n =>
  drawTrace(plot1, fromStart(n[0], -411, 2), n[1], 1.1, 1));
s1Purple.forEach(t => drawTrace(plot1, fromStart(t, s1TraceStart, 1), tracePurple, 1.2, 0.9));
s1Blue.forEach(t => drawTrace(plot1, fromStart(t, s1TraceStart, 1), traceBlue, 1.2, 0.9));
s1Red.forEach(t => drawTrace(plot1, fromStart(t, s1TraceStart, 1), traceRed, 1, 0.9));
s1Orange.forEach(t => drawTrace(plot1, fromStart(t, s1TraceStart, 1), traceOrange, 1, 0.9));
s1Green.forEach(t => drawTrace(plot1, fromStart(t, s1TraceStart, 1), traceGreen, 1.1, 0.8));
drawTrace(plot1, fromStart(s1NoiseGreen, -411, 2), traceGreen, 1.4, 1);

const plot2 = makePlot({ left: 240.7, right: 701.7, top: 166.7, bottom: 303.7 }, s1Domain, [-5, 40],
  s1DetailTicks, [-5, 0, 5, 10, 15, 20, 25, 30, 35, 40], d => String(d), d => String(d));
plot2.under.append("rect").attr("x", 240.7).attr("y", 166.7).attr("width", 461).attr("height", 137).attr("fill", "#ccffcc");
drawTrace(plot2, fromStart(s1Sum, s1SumStart, 1), navy, 2.3, 1);
ghostLabel("S1", 243, 186);
bigLabel("S1", 566, 223);

drawOverview({ left: 240.7, right: 701.7, bottom: 359.3 }, [-369, 46070], s1Domain, "#cce8cc");

// S2 detail panels
const s2Domain = [26800, 27881];
const plot3 = makePlot({ left: 243.3, right: 706, top: 394.3, bottom: 530.7 }, s2Domain, [-0.5, 6],
  s2DetailTicks, [0, 1, 2, 3, 4, 5, 6], d3.format("d"), null);
drawTrace(plot3, s2Red, traceRed, 1.2, 1);
drawTrace(plot3, fromStart(s2Blue2, s2Blue2Start, 4), traceBlue, 1.1, 1);
drawTrace(plot3, s2Blue, traceBlue, 1.1, 1);
drawTrace(plot3, fromStart(s2Purple2, s2Purple2Start, 4), tracePurple, 1.1, 1);
drawTrace(plot3, s2Purple, tracePurple, 1.1, 1);
drawTrace(plot3, s2Orange, traceOrange, 1.1, 1);
drawTrace(plot3, fromStart(s2Orange2, s2Orange2Start, 4), traceOrange, 1.1, 1);
plot3.marks.append("path").datum(s2GreenEnvelope)
  .attr("d", d3.area().x(d => plot3.x(d[0])).y0(plot3.y(0)).y1(d => plot3.y(d[1])))
  .attr("fill", "#128a0e");
drawTrace(plot3, fromStart(s2Green2, s2Green2Start, 4), traceGreen, 1.2, 1);
drawTrace(plot3, s2Green, traceGreen, 1.1, 1);
drawTrace(plot3, s2TailTrace, "#a02ca8", 1.2, 1);

const plot4 = makePlot({ left: 243.3, right: 706, top: 545, bottom: 681 }, s2Domain, [-5, 60],
  s2DetailTicks, [-5, 0, 10, 20, 30, 40, 50, 60], d => d < 0 ? "" : d, d3.format(","));
plot4.under.append("rect").attr("x", plot4.x(27012)).attr("y", 545)
  .attr("width", plot4.x(27810) - plot4.x(27012)).attr("height", 136).attr("fill", "#ccccfa");
const s2SumAll = fromStart(s2Sum, s2SumStart, 5).concat(fromStart(s2SumMid, s2SumMidStart, 5))
  .sort((a, b) => d3.ascending(a[0], b[0]));
drawTrace(plot4, s2SumAll, navy, 2.4, 1);
drawTrace(plot4, s2SumTail, navy, 2.4, 1);
ghostLabel("S2", 335.5, 563);
bigLabel("S2", 566, 607);

drawOverview({ left: 243.3, right: 706, bottom: 737.3 }, [-371, 46380], [26830, 27940], "#c8dcc8");
</script>
</body>
</html>
